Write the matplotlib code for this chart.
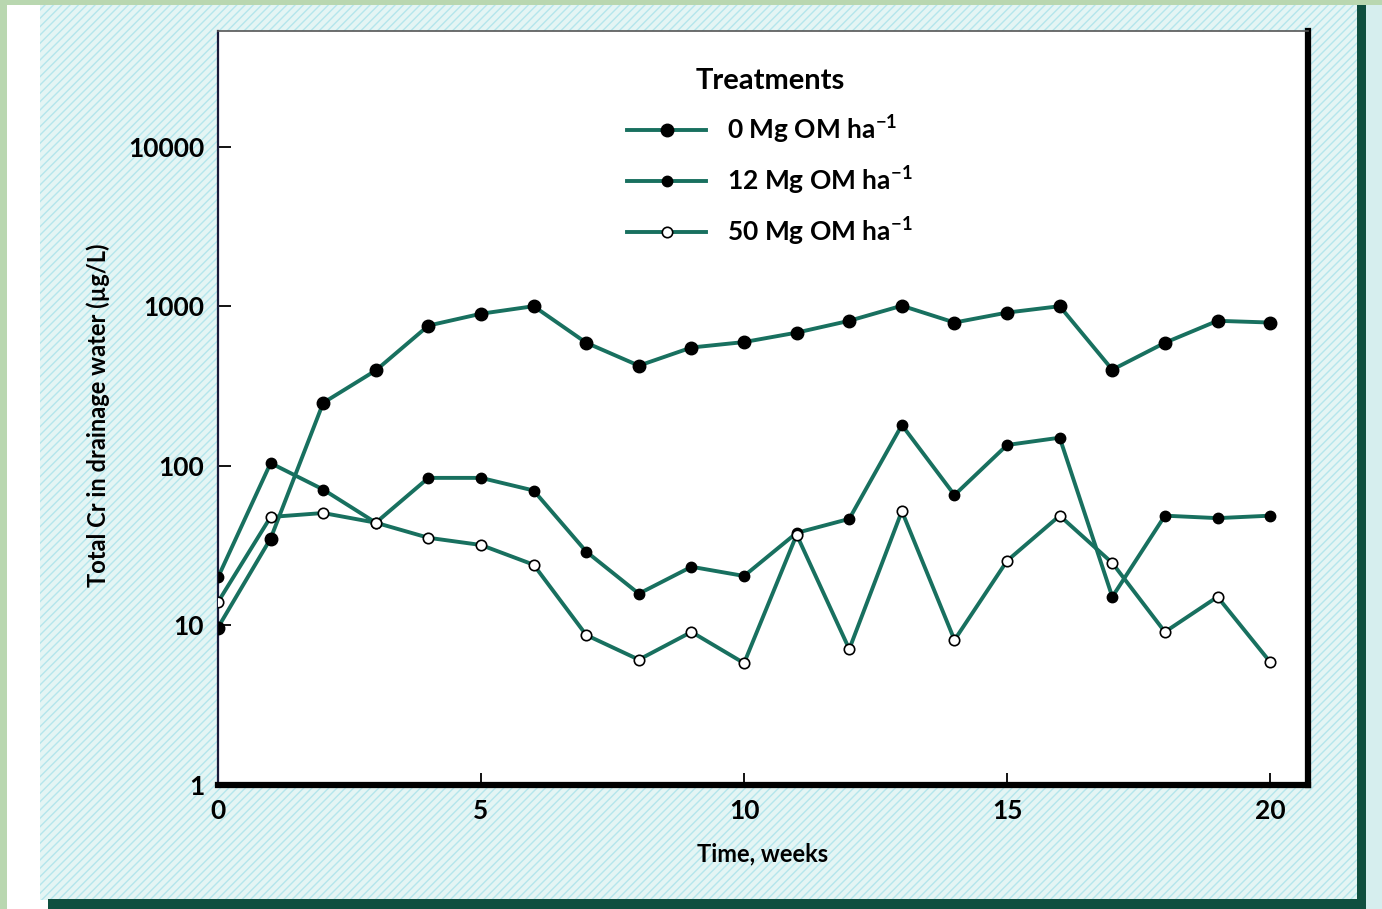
"""Total Cr in drainage water vs time for three OM treatments."""

import matplotlib

matplotlib.use("Agg")
import matplotlib.pyplot as plt
from matplotlib.patches import Rectangle

weeks = list(range(21))
cr_0mg = [9.7, 35, 248, 396, 756, 897, 1000, 590, 424, 551, 596, 683, 810, 1007,
          790, 912, 1000, 400, 590, 810, 790]
cr_12mg = [20, 104, 71, 44, 84, 84, 70, 29, 15.8, 23.3, 20.4, 38, 46.5, 180,
           65.6, 135, 150, 15.1, 48.7, 47, 48.7]
cr_50mg = [14, 47.8, 50.6, 44, 35.4, 31.9, 24, 8.7, 6.1, 9.1, 5.8, 37, 7.1, 52,
           8.1, 25.4, 48.7, 24.6, 9.1, 15.1, 5.9]
labels = [r"0 Mg OM ha$^{-1}$", r"12 Mg OM ha$^{-1}$", r"50 Mg OM ha$^{-1}$"]
yticks = [1, 10, 100, 1000, 10000]
xticks = [0, 5, 10, 15, 20]

LINE = "#18705f"
W, H = 1382, 909

plt.rcParams["font.family"] = ["Lato", "DejaVu Sans"]
plt.rcParams["mathtext.fontset"] = "custom"
plt.rcParams["mathtext.rm"] = "Lato:bold"
plt.rcParams["mathtext.it"] = "Lato:bold"

fig = plt.figure(figsize=(W / 100, H / 100), dpi=100, facecolor="white")


def _box(x0, y0, x1, y1, **kw):
    # pixel coords, origin top-left
    fig.patches.append(Rectangle((x0 / W, 1 - y1 / H), (x1 - x0) / W, (y1 - y0) / H,
                                 transform=fig.transFigure, zorder=-5, **kw))


# backdrop: green page edge, textured card, dark teal border
_box(0, 0, 7, H, facecolor="#b9d7b0", edgecolor="none")
_box(0, 0, W, 5, facecolor="#b9d7b0", edgecolor="none")
_box(40, 5, 1360, 900, facecolor="#e4f5f4", edgecolor="#b4e6ec", hatch="////",
     linewidth=0)
_box(1357, 5, 1366, 909, facecolor="#0f4f3f", edgecolor="none")
_box(48, 899, 1366, 909, facecolor="#0f4f3f", edgecolor="none")
_box(1366, 5, W, 909, facecolor="#d6eeee", edgecolor="none")

ax = fig.add_axes([218 / W, 1 - 785 / H, (1308 - 218) / W, (785 - 31) / H])
ax.set_facecolor("white")

ax.plot(weeks, cr_0mg, color=LINE, linewidth=2.8, marker="o", markersize=9,
        markerfacecolor="black", markeredgecolor="black", label=labels[0], zorder=3)
ax.plot(weeks, cr_12mg, color=LINE, linewidth=2.8, marker="o", markersize=7.5,
        markerfacecolor="black", markeredgecolor="black", label=labels[1], zorder=3)
ax.plot(weeks, cr_50mg, color=LINE, linewidth=2.8, marker="o", markersize=7.5,
        markerfacecolor="white", markeredgecolor="black", markeredgewidth=1.2,
        label=labels[2], zorder=3)

ax.set_yscale("log")
ax.set_ylim(1, 53000)
ax.set_xlim(0, 20.72)
ax.set_yticks(yticks, [str(v) for v in yticks])
ax.set_xticks(xticks, [str(v) for v in xticks])
ax.minorticks_off()
ax.tick_params(direction="in", length=9, width=1.3, labelsize=19, pad=10)
for lab in ax.get_xticklabels() + ax.get_yticklabels():
    lab.set_fontweight("bold")

ax.spines["left"].set_linewidth(1.6)
ax.spines["left"].set_color("#1a1a3a")
ax.spines["top"].set_linewidth(1.2)
ax.spines["top"].set_color("#555555")
ax.spines["bottom"].set_linewidth(4.5)
ax.spines["right"].set_linewidth(4.5)
for side in ("left", "top", "bottom", "right"):
    ax.spines[side].set_clip_on(False)

ax.set_xlabel("Time, weeks", fontsize=17, fontweight="bold", labelpad=14)
ax.set_ylabel("Total Cr in drainage water (µg/L)", fontsize=17, fontweight="bold")
ax.yaxis.set_label_coords(-0.099, 0.49)

leg = ax.legend(loc="upper center", bbox_to_anchor=(770 / W, 1 - 44 / H),
                bbox_transform=fig.transFigure, frameon=False, fontsize=19,
                handlelength=3.0, handletextpad=0.8, labelspacing=0.7,
                title="Treatments", title_fontproperties={"size": 21, "weight": "bold"})
leg._legend_box.sep = 14
for txt in leg.get_texts():
    txt.set_fontweight("bold")

fig.savefig("out.png", dpi=100, facecolor=fig.get_facecolor())
